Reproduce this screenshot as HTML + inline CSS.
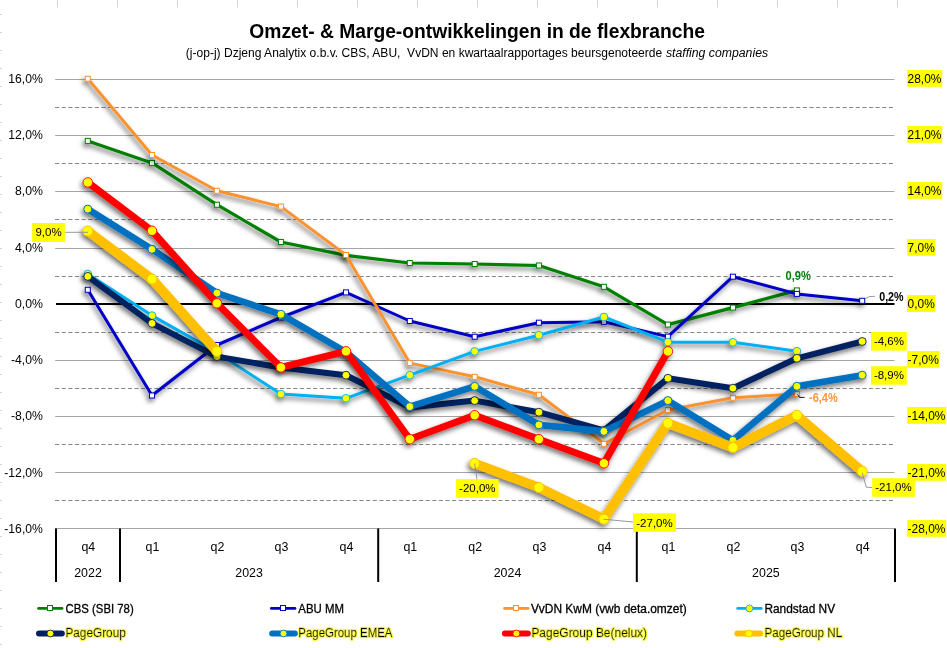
<!DOCTYPE html>
<html><head><meta charset="utf-8">
<style>
html,body{margin:0;padding:0;background:#fff;}
body{width:947px;height:648px;overflow:hidden;}
svg{display:block;will-change:transform;}
text{font-family:"Liberation Sans", sans-serif;}
</style></head><body>
<svg width="947" height="648" viewBox="0 0 947 648">
<defs>
<filter id="sh" x="-10%" y="-10%" width="120%" height="130%">
<feDropShadow dx="-1.6" dy="3.0" stdDeviation="2.8" flood-color="#000" flood-opacity="0.55"/>
</filter>
<filter id="glow" x="-10%" y="-40%" width="120%" height="180%">
<feMorphology in="SourceAlpha" operator="dilate" radius="1.3" result="d"/>
<feGaussianBlur in="d" stdDeviation="0.7" result="b"/>
<feFlood flood-color="#FFFF48"/>
<feComposite in2="b" operator="in" result="g"/>
<feMerge><feMergeNode in="g"/><feMergeNode in="SourceGraphic"/></feMerge>
</filter>
</defs>
<rect width="947" height="648" fill="#fff"/>

<line x1="57.5" y1="0" x2="57.5" y2="7.5" stroke="#d4d4d4" stroke-width="1"/>
<line x1="117.5" y1="0" x2="117.5" y2="7.5" stroke="#d4d4d4" stroke-width="1"/>
<line x1="177.5" y1="0" x2="177.5" y2="7.5" stroke="#d4d4d4" stroke-width="1"/>
<line x1="237.5" y1="0" x2="237.5" y2="7.5" stroke="#d4d4d4" stroke-width="1"/>
<line x1="297.5" y1="0" x2="297.5" y2="7.5" stroke="#d4d4d4" stroke-width="1"/>
<line x1="357.5" y1="0" x2="357.5" y2="7.5" stroke="#d4d4d4" stroke-width="1"/>
<line x1="417.5" y1="0" x2="417.5" y2="7.5" stroke="#d4d4d4" stroke-width="1"/>
<line x1="477.5" y1="0" x2="477.5" y2="7.5" stroke="#d4d4d4" stroke-width="1"/>
<line x1="537.5" y1="0" x2="537.5" y2="7.5" stroke="#d4d4d4" stroke-width="1"/>
<line x1="597.5" y1="0" x2="597.5" y2="7.5" stroke="#d4d4d4" stroke-width="1"/>
<line x1="657.5" y1="0" x2="657.5" y2="7.5" stroke="#d4d4d4" stroke-width="1"/>
<line x1="717.5" y1="0" x2="717.5" y2="7.5" stroke="#d4d4d4" stroke-width="1"/>
<line x1="777.5" y1="0" x2="777.5" y2="7.5" stroke="#d4d4d4" stroke-width="1"/>
<line x1="837.5" y1="0" x2="837.5" y2="7.5" stroke="#d4d4d4" stroke-width="1"/>
<line x1="897.5" y1="0" x2="897.5" y2="7.5" stroke="#d4d4d4" stroke-width="1"/>
<line x1="0" y1="14.5" x2="2" y2="14.5" stroke="#d4d4d4" stroke-width="1"/>
<line x1="0" y1="32.5" x2="2" y2="32.5" stroke="#d4d4d4" stroke-width="1"/>
<line x1="0" y1="50.5" x2="2" y2="50.5" stroke="#d4d4d4" stroke-width="1"/>
<line x1="0" y1="68.5" x2="2" y2="68.5" stroke="#d4d4d4" stroke-width="1"/>
<line x1="0" y1="86.5" x2="2" y2="86.5" stroke="#d4d4d4" stroke-width="1"/>
<line x1="0" y1="104.5" x2="2" y2="104.5" stroke="#d4d4d4" stroke-width="1"/>
<line x1="0" y1="122.5" x2="2" y2="122.5" stroke="#d4d4d4" stroke-width="1"/>
<line x1="0" y1="140.5" x2="2" y2="140.5" stroke="#d4d4d4" stroke-width="1"/>
<line x1="0" y1="158.5" x2="2" y2="158.5" stroke="#d4d4d4" stroke-width="1"/>
<line x1="0" y1="176.5" x2="2" y2="176.5" stroke="#d4d4d4" stroke-width="1"/>
<line x1="0" y1="194.5" x2="2" y2="194.5" stroke="#d4d4d4" stroke-width="1"/>
<line x1="0" y1="212.5" x2="2" y2="212.5" stroke="#d4d4d4" stroke-width="1"/>
<line x1="0" y1="230.5" x2="2" y2="230.5" stroke="#d4d4d4" stroke-width="1"/>
<line x1="0" y1="248.5" x2="2" y2="248.5" stroke="#d4d4d4" stroke-width="1"/>
<line x1="0" y1="266.5" x2="2" y2="266.5" stroke="#d4d4d4" stroke-width="1"/>
<line x1="0" y1="284.5" x2="2" y2="284.5" stroke="#d4d4d4" stroke-width="1"/>
<line x1="0" y1="302.5" x2="2" y2="302.5" stroke="#d4d4d4" stroke-width="1"/>
<line x1="0" y1="320.5" x2="2" y2="320.5" stroke="#d4d4d4" stroke-width="1"/>
<line x1="0" y1="338.5" x2="2" y2="338.5" stroke="#d4d4d4" stroke-width="1"/>
<line x1="0" y1="356.5" x2="2" y2="356.5" stroke="#d4d4d4" stroke-width="1"/>
<line x1="0" y1="374.5" x2="2" y2="374.5" stroke="#d4d4d4" stroke-width="1"/>
<line x1="0" y1="392.5" x2="2" y2="392.5" stroke="#d4d4d4" stroke-width="1"/>
<line x1="0" y1="410.5" x2="2" y2="410.5" stroke="#d4d4d4" stroke-width="1"/>
<line x1="0" y1="428.5" x2="2" y2="428.5" stroke="#d4d4d4" stroke-width="1"/>
<line x1="0" y1="446.5" x2="2" y2="446.5" stroke="#d4d4d4" stroke-width="1"/>
<line x1="0" y1="464.5" x2="2" y2="464.5" stroke="#d4d4d4" stroke-width="1"/>
<line x1="0" y1="482.5" x2="2" y2="482.5" stroke="#d4d4d4" stroke-width="1"/>
<line x1="0" y1="500.5" x2="2" y2="500.5" stroke="#d4d4d4" stroke-width="1"/>
<line x1="0" y1="518.5" x2="2" y2="518.5" stroke="#d4d4d4" stroke-width="1"/>
<line x1="0" y1="536.5" x2="2" y2="536.5" stroke="#d4d4d4" stroke-width="1"/>
<line x1="0" y1="554.5" x2="2" y2="554.5" stroke="#d4d4d4" stroke-width="1"/>
<line x1="0" y1="572.5" x2="2" y2="572.5" stroke="#d4d4d4" stroke-width="1"/>
<line x1="0" y1="590.5" x2="2" y2="590.5" stroke="#d4d4d4" stroke-width="1"/>
<line x1="0" y1="608.5" x2="2" y2="608.5" stroke="#d4d4d4" stroke-width="1"/>
<line x1="0" y1="626.5" x2="2" y2="626.5" stroke="#d4d4d4" stroke-width="1"/>
<line x1="0" y1="644.5" x2="2" y2="644.5" stroke="#d4d4d4" stroke-width="1"/>
<text x="249.3" y="37.7" font-size="20" font-weight="bold" fill="#000" textLength="455.7" lengthAdjust="spacingAndGlyphs">Omzet- &amp; Marge-ontwikkelingen in de flexbranche</text>
<text x="185.8" y="56.9" font-size="12" fill="#000" textLength="476.4" lengthAdjust="spacingAndGlyphs" xml:space="preserve">(j-op-j) Dzjeng Analytix o.b.v. CBS, ABU,  VvDN en kwartaalrapportages beursgenoteerde</text>
<text x="665.9" y="56.9" font-size="12" font-style="italic" fill="#000" textLength="102.2" lengthAdjust="spacingAndGlyphs">staffing companies</text>
<line x1="55.2" y1="79.5" x2="894.5" y2="79.5" stroke="#A6A6A6" stroke-width="1"/>
<line x1="55.2" y1="135.5" x2="894.5" y2="135.5" stroke="#A6A6A6" stroke-width="1"/>
<line x1="55.2" y1="191.5" x2="894.5" y2="191.5" stroke="#A6A6A6" stroke-width="1"/>
<line x1="55.2" y1="248.5" x2="894.5" y2="248.5" stroke="#A6A6A6" stroke-width="1"/>
<line x1="55.2" y1="360.5" x2="894.5" y2="360.5" stroke="#A6A6A6" stroke-width="1"/>
<line x1="55.2" y1="416.5" x2="894.5" y2="416.5" stroke="#A6A6A6" stroke-width="1"/>
<line x1="55.2" y1="472.5" x2="894.5" y2="472.5" stroke="#A6A6A6" stroke-width="1"/>
<line x1="55.2" y1="528.5" x2="894.5" y2="528.5" stroke="#A6A6A6" stroke-width="1"/>
<line x1="55.1" y1="107.5" x2="894.5" y2="107.5" stroke="#858585" stroke-width="1" stroke-dasharray="4.1 2.517"/>
<line x1="55.1" y1="163.5" x2="894.5" y2="163.5" stroke="#858585" stroke-width="1" stroke-dasharray="4.1 2.517"/>
<line x1="55.1" y1="219.5" x2="894.5" y2="219.5" stroke="#858585" stroke-width="1" stroke-dasharray="4.1 2.517"/>
<line x1="55.1" y1="276.5" x2="894.5" y2="276.5" stroke="#858585" stroke-width="1" stroke-dasharray="4.1 2.517"/>
<line x1="55.1" y1="332.5" x2="894.5" y2="332.5" stroke="#858585" stroke-width="1" stroke-dasharray="4.1 2.517"/>
<line x1="55.1" y1="388.5" x2="894.5" y2="388.5" stroke="#858585" stroke-width="1" stroke-dasharray="4.1 2.517"/>
<line x1="55.1" y1="444.5" x2="894.5" y2="444.5" stroke="#858585" stroke-width="1" stroke-dasharray="4.1 2.517"/>
<line x1="55.1" y1="500.5" x2="894.5" y2="500.5" stroke="#858585" stroke-width="1" stroke-dasharray="4.1 2.517"/>
<line x1="56" y1="304" x2="894.5" y2="304" stroke="#000" stroke-width="2"/>
<text x="42.9" y="83.0" font-size="12.4" text-anchor="end" fill="#000" textLength="34.62" lengthAdjust="spacingAndGlyphs">16,0%</text>
<text x="42.9" y="139.0" font-size="12.4" text-anchor="end" fill="#000" textLength="34.62" lengthAdjust="spacingAndGlyphs">12,0%</text>
<text x="42.9" y="195.0" font-size="12.4" text-anchor="end" fill="#000" textLength="27.95" lengthAdjust="spacingAndGlyphs">8,0%</text>
<text x="42.9" y="252.0" font-size="12.4" text-anchor="end" fill="#000" textLength="27.95" lengthAdjust="spacingAndGlyphs">4,0%</text>
<text x="42.9" y="307.5" font-size="12.4" text-anchor="end" fill="#000" textLength="27.95" lengthAdjust="spacingAndGlyphs">0,0%</text>
<text x="42.9" y="364.0" font-size="12.4" text-anchor="end" fill="#000" textLength="31.94" lengthAdjust="spacingAndGlyphs">-4,0%</text>
<text x="42.9" y="420.0" font-size="12.4" text-anchor="end" fill="#000" textLength="31.94" lengthAdjust="spacingAndGlyphs">-8,0%</text>
<text x="42.9" y="477.0" font-size="12.4" text-anchor="end" fill="#000" textLength="38.62" lengthAdjust="spacingAndGlyphs">-12,0%</text>
<text x="42.9" y="533.0" font-size="12.4" text-anchor="end" fill="#000" textLength="38.62" lengthAdjust="spacingAndGlyphs">-16,0%</text>
<line x1="56.0" y1="528.5" x2="56.0" y2="582" stroke="#000" stroke-width="2"/>
<line x1="120.0" y1="528.5" x2="120.0" y2="582" stroke="#000" stroke-width="2"/>
<line x1="378.2" y1="528.5" x2="378.2" y2="582" stroke="#000" stroke-width="2"/>
<line x1="636.8" y1="528.5" x2="636.8" y2="582" stroke="#000" stroke-width="2"/>
<line x1="895.0" y1="528.5" x2="895.0" y2="582" stroke="#000" stroke-width="2"/>
<text x="88.30" y="550.8" font-size="12.4" text-anchor="middle" fill="#000">q4</text>
<text x="152.50" y="550.8" font-size="12.4" text-anchor="middle" fill="#000">q1</text>
<text x="217.40" y="550.8" font-size="12.4" text-anchor="middle" fill="#000">q2</text>
<text x="281.40" y="550.8" font-size="12.4" text-anchor="middle" fill="#000">q3</text>
<text x="346.50" y="550.8" font-size="12.4" text-anchor="middle" fill="#000">q4</text>
<text x="410.30" y="550.8" font-size="12.4" text-anchor="middle" fill="#000">q1</text>
<text x="475.20" y="550.8" font-size="12.4" text-anchor="middle" fill="#000">q2</text>
<text x="539.40" y="550.8" font-size="12.4" text-anchor="middle" fill="#000">q3</text>
<text x="604.40" y="550.8" font-size="12.4" text-anchor="middle" fill="#000">q4</text>
<text x="668.40" y="550.8" font-size="12.4" text-anchor="middle" fill="#000">q1</text>
<text x="733.40" y="550.8" font-size="12.4" text-anchor="middle" fill="#000">q2</text>
<text x="797.40" y="550.8" font-size="12.4" text-anchor="middle" fill="#000">q3</text>
<text x="862.70" y="550.8" font-size="12.4" text-anchor="middle" fill="#000">q4</text>
<text x="88.0" y="576.9" font-size="12.4" text-anchor="middle" fill="#000">2022</text>
<text x="249.1" y="576.9" font-size="12.4" text-anchor="middle" fill="#000">2023</text>
<text x="507.5" y="576.9" font-size="12.4" text-anchor="middle" fill="#000">2024</text>
<text x="765.9" y="576.9" font-size="12.4" text-anchor="middle" fill="#000">2025</text>
<g filter="url(#sh)">
<polyline points="87.80,140.90 152.00,162.90 216.90,204.70 280.90,242.00 346.00,255.40 409.80,263.00 474.70,264.00 538.90,265.50 603.90,286.80 667.90,324.60 732.90,307.60 796.90,290.40" fill="none" stroke="#008000" stroke-width="3.2" stroke-linejoin="round" stroke-linecap="round"/>
<rect x="85.30" y="138.40" width="5.00" height="5.00" fill="#fff" stroke="#008000" stroke-width="1.0"/>
<rect x="149.50" y="160.40" width="5.00" height="5.00" fill="#fff" stroke="#008000" stroke-width="1.0"/>
<rect x="214.40" y="202.20" width="5.00" height="5.00" fill="#fff" stroke="#008000" stroke-width="1.0"/>
<rect x="278.40" y="239.50" width="5.00" height="5.00" fill="#fff" stroke="#008000" stroke-width="1.0"/>
<rect x="343.50" y="252.90" width="5.00" height="5.00" fill="#fff" stroke="#008000" stroke-width="1.0"/>
<rect x="407.30" y="260.50" width="5.00" height="5.00" fill="#fff" stroke="#008000" stroke-width="1.0"/>
<rect x="472.20" y="261.50" width="5.00" height="5.00" fill="#fff" stroke="#008000" stroke-width="1.0"/>
<rect x="536.40" y="263.00" width="5.00" height="5.00" fill="#fff" stroke="#008000" stroke-width="1.0"/>
<rect x="601.40" y="284.30" width="5.00" height="5.00" fill="#fff" stroke="#008000" stroke-width="1.0"/>
<rect x="665.40" y="322.10" width="5.00" height="5.00" fill="#fff" stroke="#008000" stroke-width="1.0"/>
<rect x="730.40" y="305.10" width="5.00" height="5.00" fill="#fff" stroke="#008000" stroke-width="1.0"/>
<rect x="794.40" y="287.90" width="5.00" height="5.00" fill="#fff" stroke="#008000" stroke-width="1.0"/>
</g>
<g filter="url(#sh)">
<polyline points="87.80,289.80 152.00,395.50 216.90,345.00 280.90,317.50 346.00,292.40 409.80,321.00 474.70,336.70 538.90,322.70 603.90,321.80 667.90,336.60 732.90,276.70 796.90,293.90 862.20,300.80" fill="none" stroke="#0000C8" stroke-width="3.0" stroke-linejoin="round" stroke-linecap="round"/>
<rect x="85.30" y="287.30" width="5.00" height="5.00" fill="#fff" stroke="#0000C8" stroke-width="1.0"/>
<rect x="149.50" y="393.00" width="5.00" height="5.00" fill="#fff" stroke="#0000C8" stroke-width="1.0"/>
<rect x="214.40" y="342.50" width="5.00" height="5.00" fill="#fff" stroke="#0000C8" stroke-width="1.0"/>
<rect x="278.40" y="315.00" width="5.00" height="5.00" fill="#fff" stroke="#0000C8" stroke-width="1.0"/>
<rect x="343.50" y="289.90" width="5.00" height="5.00" fill="#fff" stroke="#0000C8" stroke-width="1.0"/>
<rect x="407.30" y="318.50" width="5.00" height="5.00" fill="#fff" stroke="#0000C8" stroke-width="1.0"/>
<rect x="472.20" y="334.20" width="5.00" height="5.00" fill="#fff" stroke="#0000C8" stroke-width="1.0"/>
<rect x="536.40" y="320.20" width="5.00" height="5.00" fill="#fff" stroke="#0000C8" stroke-width="1.0"/>
<rect x="601.40" y="319.30" width="5.00" height="5.00" fill="#fff" stroke="#0000C8" stroke-width="1.0"/>
<rect x="665.40" y="334.10" width="5.00" height="5.00" fill="#fff" stroke="#0000C8" stroke-width="1.0"/>
<rect x="730.40" y="274.20" width="5.00" height="5.00" fill="#fff" stroke="#0000C8" stroke-width="1.0"/>
<rect x="794.40" y="291.40" width="5.00" height="5.00" fill="#fff" stroke="#0000C8" stroke-width="1.0"/>
<rect x="859.70" y="298.30" width="5.00" height="5.00" fill="#fff" stroke="#0000C8" stroke-width="1.0"/>
</g>
<g filter="url(#sh)">
<polyline points="87.80,78.80 152.00,155.00 216.90,190.80 280.90,206.60 346.00,255.00 409.80,363.10 474.70,376.80 538.90,394.80 603.90,443.80 667.90,410.00 732.90,397.80 796.90,394.00" fill="none" stroke="#FA922F" stroke-width="3.0" stroke-linejoin="round" stroke-linecap="round"/>
<rect x="85.30" y="76.30" width="5.00" height="5.00" fill="#fff" stroke="#FA922F" stroke-width="1.0"/>
<rect x="149.50" y="152.50" width="5.00" height="5.00" fill="#fff" stroke="#FA922F" stroke-width="1.0"/>
<rect x="214.40" y="188.30" width="5.00" height="5.00" fill="#fff" stroke="#FA922F" stroke-width="1.0"/>
<rect x="278.40" y="204.10" width="5.00" height="5.00" fill="#fff" stroke="#FA922F" stroke-width="1.0"/>
<rect x="343.50" y="252.50" width="5.00" height="5.00" fill="#fff" stroke="#FA922F" stroke-width="1.0"/>
<rect x="407.30" y="360.60" width="5.00" height="5.00" fill="#fff" stroke="#FA922F" stroke-width="1.0"/>
<rect x="472.20" y="374.30" width="5.00" height="5.00" fill="#fff" stroke="#FA922F" stroke-width="1.0"/>
<rect x="536.40" y="392.30" width="5.00" height="5.00" fill="#fff" stroke="#FA922F" stroke-width="1.0"/>
<rect x="601.40" y="441.30" width="5.00" height="5.00" fill="#fff" stroke="#FA922F" stroke-width="1.0"/>
<rect x="665.40" y="407.50" width="5.00" height="5.00" fill="#fff" stroke="#FA922F" stroke-width="1.0"/>
<rect x="730.40" y="395.30" width="5.00" height="5.00" fill="#fff" stroke="#FA922F" stroke-width="1.0"/>
<rect x="794.40" y="391.50" width="5.00" height="5.00" fill="#fff" stroke="#FA922F" stroke-width="1.0"/>
</g>
<g filter="url(#sh)">
<polyline points="87.80,274.00 152.00,315.60 216.90,352.40 280.90,394.10 346.00,398.30 409.80,375.20 474.70,351.40 538.90,335.20 603.90,317.00 667.90,342.20 732.90,342.30 796.90,351.20" fill="none" stroke="#00B0F0" stroke-width="3.0" stroke-linejoin="round" stroke-linecap="round"/>
<circle cx="87.80" cy="274.00" r="3.85" fill="#FFFF00" stroke="#00B0F0" stroke-width="0.9"/>
<circle cx="152.00" cy="315.60" r="3.85" fill="#FFFF00" stroke="#00B0F0" stroke-width="0.9"/>
<circle cx="216.90" cy="352.40" r="3.85" fill="#FFFF00" stroke="#00B0F0" stroke-width="0.9"/>
<circle cx="280.90" cy="394.10" r="3.85" fill="#FFFF00" stroke="#00B0F0" stroke-width="0.9"/>
<circle cx="346.00" cy="398.30" r="3.85" fill="#FFFF00" stroke="#00B0F0" stroke-width="0.9"/>
<circle cx="409.80" cy="375.20" r="3.85" fill="#FFFF00" stroke="#00B0F0" stroke-width="0.9"/>
<circle cx="474.70" cy="351.40" r="3.85" fill="#FFFF00" stroke="#00B0F0" stroke-width="0.9"/>
<circle cx="538.90" cy="335.20" r="3.85" fill="#FFFF00" stroke="#00B0F0" stroke-width="0.9"/>
<circle cx="603.90" cy="317.00" r="3.85" fill="#FFFF00" stroke="#00B0F0" stroke-width="0.9"/>
<circle cx="667.90" cy="342.20" r="3.85" fill="#FFFF00" stroke="#00B0F0" stroke-width="0.9"/>
<circle cx="732.90" cy="342.30" r="3.85" fill="#FFFF00" stroke="#00B0F0" stroke-width="0.9"/>
<circle cx="796.90" cy="351.20" r="3.85" fill="#FFFF00" stroke="#00B0F0" stroke-width="0.9"/>
</g>
<g filter="url(#sh)">
<polyline points="87.80,276.40 152.00,323.40 216.90,356.60 280.90,367.50 346.00,375.20 409.80,407.40 474.70,400.60 538.90,412.20 603.90,430.40 667.90,378.30 732.90,388.20 796.90,358.30 862.20,341.50" fill="none" stroke="#002060" stroke-width="6.0" stroke-linejoin="round" stroke-linecap="round"/>
<circle cx="87.80" cy="276.40" r="3.95" fill="#FFFF00" stroke="#002060" stroke-width="0.9"/>
<circle cx="152.00" cy="323.40" r="3.95" fill="#FFFF00" stroke="#002060" stroke-width="0.9"/>
<circle cx="216.90" cy="356.60" r="3.95" fill="#FFFF00" stroke="#002060" stroke-width="0.9"/>
<circle cx="280.90" cy="367.50" r="3.95" fill="#FFFF00" stroke="#002060" stroke-width="0.9"/>
<circle cx="346.00" cy="375.20" r="3.95" fill="#FFFF00" stroke="#002060" stroke-width="0.9"/>
<circle cx="409.80" cy="407.40" r="3.95" fill="#FFFF00" stroke="#002060" stroke-width="0.9"/>
<circle cx="474.70" cy="400.60" r="3.95" fill="#FFFF00" stroke="#002060" stroke-width="0.9"/>
<circle cx="538.90" cy="412.20" r="3.95" fill="#FFFF00" stroke="#002060" stroke-width="0.9"/>
<circle cx="603.90" cy="430.40" r="3.95" fill="#FFFF00" stroke="#002060" stroke-width="0.9"/>
<circle cx="667.90" cy="378.30" r="3.95" fill="#FFFF00" stroke="#002060" stroke-width="0.9"/>
<circle cx="732.90" cy="388.20" r="3.95" fill="#FFFF00" stroke="#002060" stroke-width="0.9"/>
<circle cx="796.90" cy="358.30" r="3.95" fill="#FFFF00" stroke="#002060" stroke-width="0.9"/>
<circle cx="862.20" cy="341.50" r="3.95" fill="#FFFF00" stroke="#002060" stroke-width="0.9"/>
</g>
<g filter="url(#sh)">
<polyline points="87.80,209.10 152.00,249.30 216.90,293.10 280.90,314.30 346.00,352.00 409.80,406.60 474.70,386.40 538.90,424.90 603.90,431.40 667.90,400.60 732.90,440.30 796.90,386.30 862.20,375.20" fill="none" stroke="#0070C0" stroke-width="6.6" stroke-linejoin="round" stroke-linecap="round"/>
<circle cx="87.80" cy="209.10" r="4.00" fill="#FFFF00" stroke="#0070C0" stroke-width="1.0"/>
<circle cx="152.00" cy="249.30" r="4.00" fill="#FFFF00" stroke="#0070C0" stroke-width="1.0"/>
<circle cx="216.90" cy="293.10" r="4.00" fill="#FFFF00" stroke="#0070C0" stroke-width="1.0"/>
<circle cx="280.90" cy="314.30" r="4.00" fill="#FFFF00" stroke="#0070C0" stroke-width="1.0"/>
<circle cx="346.00" cy="352.00" r="4.00" fill="#FFFF00" stroke="#0070C0" stroke-width="1.0"/>
<circle cx="409.80" cy="406.60" r="4.00" fill="#FFFF00" stroke="#0070C0" stroke-width="1.0"/>
<circle cx="474.70" cy="386.40" r="4.00" fill="#FFFF00" stroke="#0070C0" stroke-width="1.0"/>
<circle cx="538.90" cy="424.90" r="4.00" fill="#FFFF00" stroke="#0070C0" stroke-width="1.0"/>
<circle cx="603.90" cy="431.40" r="4.00" fill="#FFFF00" stroke="#0070C0" stroke-width="1.0"/>
<circle cx="667.90" cy="400.60" r="4.00" fill="#FFFF00" stroke="#0070C0" stroke-width="1.0"/>
<circle cx="732.90" cy="440.30" r="4.00" fill="#FFFF00" stroke="#0070C0" stroke-width="1.0"/>
<circle cx="796.90" cy="386.30" r="4.00" fill="#FFFF00" stroke="#0070C0" stroke-width="1.0"/>
<circle cx="862.20" cy="375.20" r="4.00" fill="#FFFF00" stroke="#0070C0" stroke-width="1.0"/>
</g>
<g filter="url(#sh)">
<polyline points="87.80,182.40 152.00,230.80 216.90,303.30 280.90,367.40 346.00,351.30 409.80,439.20 474.70,415.20 538.90,439.20 603.90,463.30 667.90,351.40" fill="none" stroke="#FF0000" stroke-width="7.0" stroke-linejoin="round" stroke-linecap="round"/>
<circle cx="87.80" cy="182.40" r="4.75" fill="#FFFF00" stroke="#FF0000" stroke-width="0.9"/>
<circle cx="152.00" cy="230.80" r="4.75" fill="#FFFF00" stroke="#FF0000" stroke-width="0.9"/>
<circle cx="216.90" cy="303.30" r="4.75" fill="#FFFF00" stroke="#FF0000" stroke-width="0.9"/>
<circle cx="280.90" cy="367.40" r="4.75" fill="#FFFF00" stroke="#FF0000" stroke-width="0.9"/>
<circle cx="346.00" cy="351.30" r="4.75" fill="#FFFF00" stroke="#FF0000" stroke-width="0.9"/>
<circle cx="409.80" cy="439.20" r="4.75" fill="#FFFF00" stroke="#FF0000" stroke-width="0.9"/>
<circle cx="474.70" cy="415.20" r="4.75" fill="#FFFF00" stroke="#FF0000" stroke-width="0.9"/>
<circle cx="538.90" cy="439.20" r="4.75" fill="#FFFF00" stroke="#FF0000" stroke-width="0.9"/>
<circle cx="603.90" cy="463.30" r="4.75" fill="#FFFF00" stroke="#FF0000" stroke-width="0.9"/>
<circle cx="667.90" cy="351.40" r="4.75" fill="#FFFF00" stroke="#FF0000" stroke-width="0.9"/>
</g>
<g filter="url(#sh)">
<polyline points="87.80,231.00 152.00,279.00 216.90,351.30" fill="none" stroke="#FFC000" stroke-width="9.5" stroke-linejoin="round" stroke-linecap="round"/>
<polyline points="474.70,463.40 538.90,487.40 603.90,519.10 667.90,423.20 732.90,447.50 796.90,415.30 862.20,471.30" fill="none" stroke="#FFC000" stroke-width="9.5" stroke-linejoin="round" stroke-linecap="round"/>
<circle cx="87.80" cy="231.00" r="5.00" fill="#FFFF00" stroke="#FFC000" stroke-width="1.0"/>
<circle cx="152.00" cy="279.00" r="5.00" fill="#FFFF00" stroke="#FFC000" stroke-width="1.0"/>
<circle cx="216.90" cy="351.30" r="5.00" fill="#FFFF00" stroke="#FFC000" stroke-width="1.0"/>
<circle cx="474.70" cy="463.40" r="5.00" fill="#FFFF00" stroke="#FFC000" stroke-width="1.0"/>
<circle cx="538.90" cy="487.40" r="5.00" fill="#FFFF00" stroke="#FFC000" stroke-width="1.0"/>
<circle cx="603.90" cy="519.10" r="5.00" fill="#FFFF00" stroke="#FFC000" stroke-width="1.0"/>
<circle cx="667.90" cy="423.20" r="5.00" fill="#FFFF00" stroke="#FFC000" stroke-width="1.0"/>
<circle cx="732.90" cy="447.50" r="5.00" fill="#FFFF00" stroke="#FFC000" stroke-width="1.0"/>
<circle cx="796.90" cy="415.30" r="5.00" fill="#FFFF00" stroke="#FFC000" stroke-width="1.0"/>
<circle cx="862.20" cy="471.30" r="5.00" fill="#FFFF00" stroke="#FFC000" stroke-width="1.0"/>
</g>
<rect x="907.2" y="70.0" width="35.0" height="16.8" fill="#FFFF00"/>
<text x="907.6" y="83.1" font-size="12.4" fill="#000" textLength="33.82" lengthAdjust="spacingAndGlyphs">28,0%</text>
<rect x="907.2" y="126.0" width="35.0" height="16.8" fill="#FFFF00"/>
<text x="907.6" y="139.1" font-size="12.4" fill="#000" textLength="33.82" lengthAdjust="spacingAndGlyphs">21,0%</text>
<rect x="907.2" y="182.0" width="35.0" height="16.8" fill="#FFFF00"/>
<text x="907.6" y="195.1" font-size="12.4" fill="#000" textLength="33.82" lengthAdjust="spacingAndGlyphs">14,0%</text>
<rect x="907.2" y="239.0" width="28.3" height="16.8" fill="#FFFF00"/>
<text x="907.6" y="252.1" font-size="12.4" fill="#000" textLength="27.15" lengthAdjust="spacingAndGlyphs">7,0%</text>
<rect x="907.2" y="295.1" width="28.3" height="16.8" fill="#FFFF00"/>
<text x="907.6" y="308.2" font-size="12.4" fill="#000" textLength="27.15" lengthAdjust="spacingAndGlyphs">0,0%</text>
<rect x="907.2" y="351.0" width="32.3" height="16.8" fill="#FFFF00"/>
<text x="907.6" y="364.1" font-size="12.4" fill="#000" textLength="31.14" lengthAdjust="spacingAndGlyphs">-7,0%</text>
<rect x="907.2" y="407.0" width="39.0" height="16.8" fill="#FFFF00"/>
<text x="907.6" y="420.1" font-size="12.4" fill="#000" textLength="37.82" lengthAdjust="spacingAndGlyphs">-14,0%</text>
<rect x="907.2" y="464.0" width="39.0" height="16.8" fill="#FFFF00"/>
<text x="907.6" y="477.1" font-size="12.4" fill="#000" textLength="37.82" lengthAdjust="spacingAndGlyphs">-21,0%</text>
<rect x="907.2" y="520.0" width="39.0" height="16.8" fill="#FFFF00"/>
<text x="907.6" y="533.1" font-size="12.4" fill="#000" textLength="37.82" lengthAdjust="spacingAndGlyphs">-28,0%</text>
<g stroke="#8C8C8C" stroke-width="0.9" fill="none">
<polyline points="65.2,232.3 88.0,232.3"/>
<polyline points="474.6,463.6 477.0,479.2"/>
<polyline points="603.3,519.2 633.0,522.0"/>
<polyline points="862.2,472.8 866.3,487.2 872.2,487.5"/>
<polyline points="865.2,298.7 869.3,296.6 874.8,296.3"/>
</g>
<polyline points="797.6,394.4 799.4,397.4 804.6,397.4" stroke="#000" stroke-width="0.9" fill="none"/>
<rect x="32.1" y="223.0" width="32.8" height="18.9" fill="#FFFF00"/>
<text x="48.5" y="236.40" font-size="11.5" text-anchor="middle" fill="#000">9,0%</text>
<rect x="456.0" y="479.1" width="42.6" height="18.7" fill="#FFFF00"/>
<text x="477.3" y="492.40" font-size="11.5" text-anchor="middle" fill="#000">-20,0%</text>
<rect x="633.0" y="513.3" width="43.1" height="18.5" fill="#FFFF00"/>
<text x="654.5" y="526.50" font-size="11.5" text-anchor="middle" fill="#000">-27,0%</text>
<rect x="872.2" y="478.2" width="42.7" height="18.6" fill="#FFFF00"/>
<text x="893.5" y="491.45" font-size="11.5" text-anchor="middle" fill="#000">-21,0%</text>
<rect x="871.0" y="332.0" width="35.8" height="18.6" fill="#FFFF00"/>
<text x="888.9" y="345.25" font-size="11.5" text-anchor="middle" fill="#000">-4,6%</text>
<rect x="871.0" y="366.2" width="35.8" height="18.5" fill="#FFFF00"/>
<text x="888.9" y="379.40" font-size="11.5" text-anchor="middle" fill="#000">-8,9%</text>
<rect x="781.5" y="268" width="35" height="16" fill="#fff"/>
<text x="785.5" y="280.0" font-size="12" font-weight="bold" fill="#008000" textLength="25.3" lengthAdjust="spacingAndGlyphs">0,9%</text>
<text x="879.2" y="301.0" font-size="12" font-weight="bold" fill="#000" textLength="24.4" lengthAdjust="spacingAndGlyphs">0,2%</text>
<text x="809.0" y="401.8" font-size="12" font-weight="bold" fill="#F7963F" textLength="28.8" lengthAdjust="spacingAndGlyphs">-6,4%</text>
<line x1="38.6" y1="608.4" x2="62.0" y2="608.4" stroke="#008000" stroke-width="2.9" stroke-linecap="round"/>
<rect x="47.50" y="605.50" width="5.00" height="5.00" fill="#fff" stroke="#008000" stroke-width="1.0"/>
<text x="65.6" y="612.6" font-size="12.3" fill="#000" stroke="#000" stroke-width="0.3" textLength="68.1" lengthAdjust="spacingAndGlyphs">CBS (SBI 78)</text>
<line x1="271.4" y1="608.4" x2="294.9" y2="608.4" stroke="#0000C8" stroke-width="2.9" stroke-linecap="round"/>
<rect x="280.50" y="605.50" width="5.00" height="5.00" fill="#fff" stroke="#0000C8" stroke-width="1.0"/>
<text x="298.3" y="612.6" font-size="12.3" fill="#000" stroke="#000" stroke-width="0.3" textLength="45.6" lengthAdjust="spacingAndGlyphs">ABU MM</text>
<line x1="504.6" y1="608.4" x2="528.1" y2="608.4" stroke="#FA922F" stroke-width="2.9" stroke-linecap="round"/>
<rect x="513.50" y="605.50" width="5.00" height="5.00" fill="#fff" stroke="#FA922F" stroke-width="1.0"/>
<text x="530.9" y="612.6" font-size="12.3" fill="#000" stroke="#000" stroke-width="0.3" textLength="155.8" lengthAdjust="spacingAndGlyphs">VvDN KwM (vwb deta.omzet)</text>
<line x1="737.8" y1="608.4" x2="761.2" y2="608.4" stroke="#00B0F0" stroke-width="2.9" stroke-linecap="round"/>
<circle cx="749.50" cy="608.40" r="3.45" fill="#FFFF00" stroke="#00B0F0" stroke-width="0.9"/>
<text x="764.4" y="612.6" font-size="12.3" fill="#000" stroke="#000" stroke-width="0.3" textLength="70.7" lengthAdjust="spacingAndGlyphs">Randstad NV</text>
<line x1="39.0" y1="633.5" x2="61.8" y2="633.5" stroke="#002060" stroke-width="6.0" stroke-linecap="round"/>
<circle cx="50.40" cy="633.50" r="3.45" fill="#FFFF00" stroke="#002060" stroke-width="0.9"/>
<text x="65.4" y="637.2" font-size="12.3" fill="#000" stroke="#000" stroke-width="0.3" textLength="60.4" lengthAdjust="spacingAndGlyphs" filter="url(#glow)">PageGroup</text>
<line x1="272.2" y1="633.5" x2="294.8" y2="633.5" stroke="#0070C0" stroke-width="6.0" stroke-linecap="round"/>
<circle cx="283.50" cy="633.50" r="3.45" fill="#FFFF00" stroke="#0070C0" stroke-width="0.9"/>
<text x="298.3" y="637.2" font-size="12.3" fill="#000" stroke="#000" stroke-width="0.3" textLength="94.2" lengthAdjust="spacingAndGlyphs" filter="url(#glow)">PageGroup EMEA</text>
<line x1="504.9" y1="633.5" x2="527.9" y2="633.5" stroke="#FF0000" stroke-width="6.0" stroke-linecap="round"/>
<circle cx="516.40" cy="633.50" r="3.45" fill="#FFFF00" stroke="#FF0000" stroke-width="0.9"/>
<text x="531.4" y="637.2" font-size="12.3" fill="#000" stroke="#000" stroke-width="0.3" textLength="115.7" lengthAdjust="spacingAndGlyphs" filter="url(#glow)">PageGroup Be(nelux)</text>
<line x1="737.4" y1="633.5" x2="760.2" y2="633.5" stroke="#FFC000" stroke-width="6.0" stroke-linecap="round"/>
<circle cx="748.80" cy="633.50" r="3.45" fill="#FFFF00" stroke="#FFC000" stroke-width="0.9"/>
<text x="764.4" y="637.2" font-size="12.3" fill="#000" stroke="#000" stroke-width="0.3" textLength="77.9" lengthAdjust="spacingAndGlyphs" filter="url(#glow)">PageGroup NL</text>
</svg>
</body></html>
